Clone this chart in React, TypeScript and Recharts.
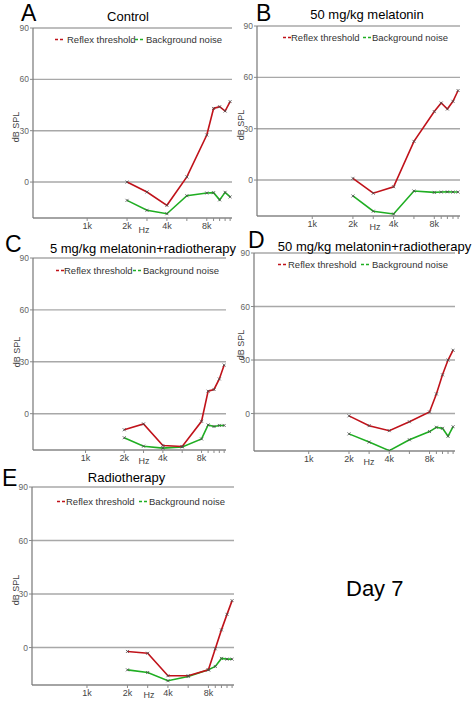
import React from 'react';
import { LineChart, Line, XAxis, YAxis, CartesianGrid } from 'recharts';

// ---------- data ----------
const FREQS = [2000, 2828, 4000, 5657, 8000, 9000, 10000, 11000, 12000];
const X_TICKS = [1000, 2000, 2828, 4000, 5657, 8000, 9000, 10000, 11000, 12000];
const X_TICK_LABELS: Record<number, string> = { 1000: '1k', 2000: '2k', 4000: '4k', 8000: '8k' };
const Y_TICKS = [0, 30, 60, 90];

const controlReflex = [0, -5.8, -13.6, 3, 27.5, 43, 44, 41.5, 47];
const controlNoise = [-10.7, -16.5, -18.5, -8, -6.4, -6.2, -10.4, -6, -8.7];

const mel50Reflex = [1, -7.7, -3.9, 22.6, 40, 45, 41.5, 46, 52.3];
const mel50Noise = [-9.3, -18.2, -19.8, -6.4, -7.2, -7, -6.9, -7, -7];

const mel5RtReflex = [-9.3, -5.9, -18.4, -19, -4.4, 13, 14, 20.1, 28.1];
const mel5RtNoise = [-13.9, -18.8, -19.9, -19.2, -14.6, -6.5, -7.4, -6.8, -6.8];

const mel50RtReflex = [-1.3, -6.8, -9.6, -4.6, 0.9, 11, 21.7, 30, 35.5];
const mel50RtNoise = [-11.4, -16, -20.8, -14.7, -10.1, -7.7, -8.3, -12.7, -7.4];

const rtReflex = [-2.2, -3.2, -15.8, -15.8, -12.5, -0.7, 9.9, 18.6, 26.3];
const rtNoise = [-12.5, -14, -18.6, -16.2, -12.5, -10.6, -6.1, -6.5, -6.5];

const SERIES_NAMES = ['Reflex threshold', 'Background noise'];
const PANEL_LETTERS = ['A', 'B', 'C', 'D', 'E'];
const PANEL_TITLES = [
  'Control',
  '50 mg/kg melatonin',
  '5 mg/kg melatonin+radiotherapy',
  '50 mg/kg melatonin+radiotherapy',
  'Radiotherapy',
];
const DAY_LABEL = 'Day 7';

// ---------- style / layout ----------
const FONT = '"Liberation Sans", Arial, sans-serif';
const RED = '#c0121a';
const GREEN = '#1fae22';

type Box = { x0: number; y0: number; x1: number; y1: number };

const BOXES: Box[] = [
  { x0: 33, y0: 28, x1: 232, y1: 218 },
  { x0: 257, y0: 26, x1: 460, y1: 216 },
  { x0: 33, y0: 258, x1: 226, y1: 450 },
  { x0: 254, y0: 253, x1: 455, y1: 451 },
  { x0: 32, y0: 487, x1: 234, y1: 685 },
];

const ANNOT = [
  { letter: [21, 21], title: [128, 21], legend: [55, 43, 67, 135, 146], hz: [144, 233], db: [19, 127] },
  { letter: [256, 21], title: [367, 18.5], legend: [283, 41, 291, 363, 372], hz: [375, 230], db: [244, 125] },
  { letter: [5, 252], title: [143, 253], legend: [56, 274, 64, 133, 143], hz: [144, 464], db: [20, 352] },
  { letter: [248, 248], title: [374.5, 251], legend: [278, 268, 288, 361, 372], hz: [369, 465], db: [244, 345] },
  { letter: [2, 486], title: [126.5, 482], legend: [57, 505, 66, 139, 149], hz: [149, 698], db: [19, 590] },
];

const crossDot = (color: string) => (p: any) => {
  const { cx, cy, index } = p;
  if (cx == null || cy == null) return <g key={`e${index}`} />;
  const s = 1.5;
  return (
    <path
      key={`d${index}`}
      d={`M${cx - s},${cy - s}L${cx + s},${cy + s}M${cx - s},${cy + s}L${cx + s},${cy - s}`}
      stroke={color}
      strokeWidth={0.8}
      fill="none"
    />
  );
};

function Panel({ box, reflex, noise }: { box: Box; reflex: number[]; noise: number[] }) {
  const YW = 30, XH = 22, MT = 6, MR = 6;
  const data = FREQS.map((f, i) => ({ f, reflex: reflex[i], noise: noise[i] }));
  const w = box.x1 - box.x0 + YW + MR;
  const h = box.y1 - box.y0 + MT + XH;
  return (
    <div style={{ position: 'absolute', left: box.x0 - YW, top: box.y0 - MT }}>
      <LineChart width={w} height={h} data={data} margin={{ top: MT, right: MR, bottom: 0, left: 0 }}>
        <CartesianGrid horizontal vertical={false} stroke="#a8a8a8" strokeWidth={1.4} />
        <XAxis
          dataKey="f"
          type="number"
          scale="log"
          domain={[390, 12400]}
          allowDataOverflow
          ticks={X_TICKS}
          interval={0}
          tickFormatter={(v: number) => X_TICK_LABELS[v] ?? ''}
          height={XH}
          tickSize={3}
          tickMargin={2}
          tick={{ fontSize: 9, fill: '#444', fontFamily: FONT }}
          axisLine={{ stroke: '#8a8a8a', strokeWidth: 1.2 }}
          tickLine={{ stroke: '#8a8a8a' }}
        />
        <YAxis
          type="number"
          domain={[-21, 90]}
          allowDataOverflow
          ticks={Y_TICKS}
          interval={0}
          width={YW}
          tickSize={3}
          tickMargin={1}
          tick={{ fontSize: 8.5, fill: '#666', fontFamily: FONT }}
          axisLine={{ stroke: '#777', strokeWidth: 1.2 }}
          tickLine={{ stroke: '#888' }}
        />
        <Line
          dataKey="noise"
          type="linear"
          stroke={GREEN}
          strokeWidth={1.6}
          dot={crossDot('#4a4a4a')}
          isAnimationActive={false}
        />
        <Line
          dataKey="reflex"
          type="linear"
          stroke={RED}
          strokeWidth={1.6}
          dot={crossDot('#4a4a4a')}
          isAnimationActive={false}
        />
      </LineChart>
    </div>
  );
}

function Overlay() {
  return (
    <svg
      width={475}
      height={703}
      style={{ position: 'absolute', left: 0, top: 0, pointerEvents: 'none' }}
      fontFamily={FONT}
    >
      {ANNOT.map((a, i) => (
        <g key={i}>
          <text x={a.letter[0]} y={a.letter[1]} fontSize={23} fill="#000">
            {PANEL_LETTERS[i]}
          </text>
          <text x={a.title[0]} y={a.title[1]} fontSize={13} fill="#000" textAnchor="middle">
            {PANEL_TITLES[i]}
          </text>
          <line
            x1={a.legend[0]}
            x2={a.legend[0] + 8}
            y1={a.legend[1] - 3.5}
            y2={a.legend[1] - 3.5}
            stroke={RED}
            strokeWidth={1.4}
            strokeDasharray="3 2"
          />
          <text x={a.legend[2]} y={a.legend[1]} fontSize={9.5} fill="#333">
            {SERIES_NAMES[0]}
          </text>
          <line
            x1={a.legend[3]}
            x2={a.legend[3] + 8}
            y1={a.legend[1] - 3.5}
            y2={a.legend[1] - 3.5}
            stroke={GREEN}
            strokeWidth={1.4}
            strokeDasharray="3 2"
          />
          <text x={a.legend[4]} y={a.legend[1]} fontSize={9.5} fill="#333">
            {SERIES_NAMES[1]}
          </text>
          <text x={a.hz[0]} y={a.hz[1]} fontSize={9} fill="#444" textAnchor="middle">
            Hz
          </text>
          <text
            x={a.db[0]}
            y={a.db[1]}
            fontSize={9}
            fill="#444"
            textAnchor="middle"
            transform={`rotate(-90 ${a.db[0]} ${a.db[1]})`}
          >
            dB SPL
          </text>
        </g>
      ))}
      <text x={346} y={596} fontSize={22} fill="#000">
        {DAY_LABEL}
      </text>
    </svg>
  );
}

export default function App() {
  const panels = [
    [controlReflex, controlNoise],
    [mel50Reflex, mel50Noise],
    [mel5RtReflex, mel5RtNoise],
    [mel50RtReflex, mel50RtNoise],
    [rtReflex, rtNoise],
  ];
  return (
    <div style={{ position: 'absolute', left: 0, top: 0, width: 475, height: 703, background: '#fff', overflow: 'hidden' }}>
      {panels.map((p, i) => (
        <Panel key={i} box={BOXES[i]} reflex={p[0]} noise={p[1]} />
      ))}
      <Overlay />
    </div>
  );
}
